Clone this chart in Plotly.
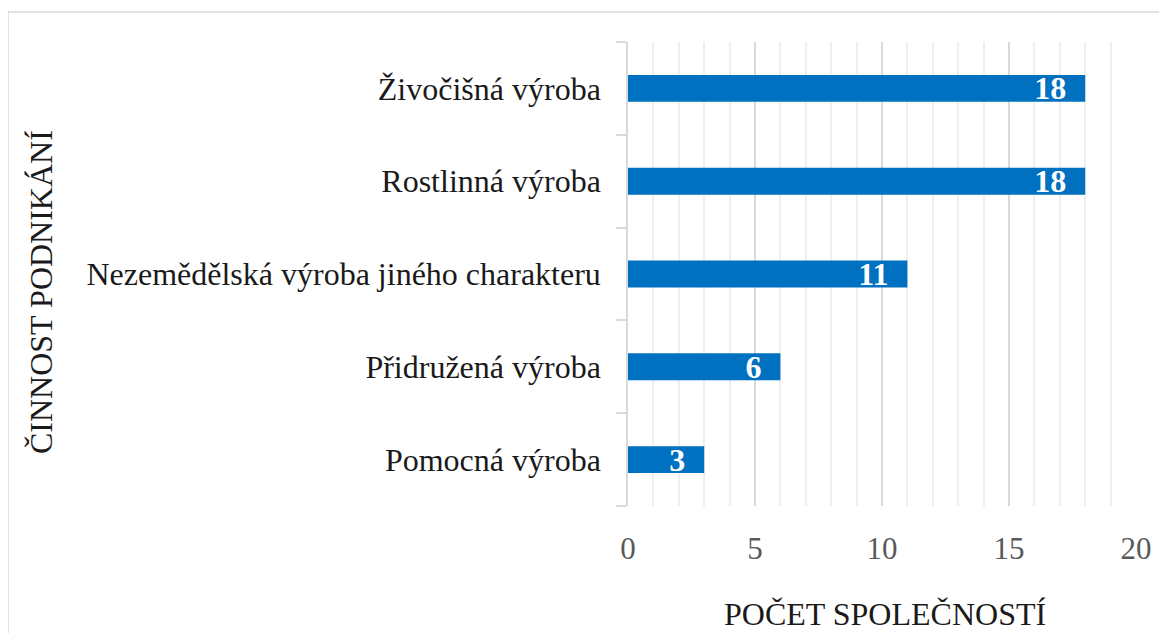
import plotly.graph_objects as go

categories = ["Pomocná výroba", "Přidružená výroba", "Nezemědělská výroba jiného charakteru",
              "Rostlinná výroba", "Živočišná výroba"]
values = [3, 6, 11, 18, 18]
x_ticks = [0, 5, 10, 15, 20]

OFF = 8  # default body margin of the page
W, H = 1167, 633
L, R, T, B = 628 - OFF, 1167 - (1136 - OFF), 42 - OFF, 633 - (506 - OFF)
pw, ph = W - L - R, H - T - B

def px2x(px):
    return (px - OFF - L) / pw

def py2y(py):
    return 1 - (py - OFF - T) / ph

fig = go.Figure(go.Bar(
    x=values, y=categories, orientation="h",
    marker=dict(color="#0070C0", line=dict(width=0)),
    width=0.29,
    text=[str(v) + "\u00a0\u00a0" for v in values],
    textposition="inside", insidetextanchor="end", textangle=0,
    textfont=dict(family="Liberation Serif", size=32, color="white", weight="bold"),
    constraintext="none",
    cliponaxis=False,
))

fig.update_layout(
    width=W, height=H, autosize=False,
    margin=dict(l=L, r=R, t=T, b=B),
    paper_bgcolor="white", plot_bgcolor="white",
    showlegend=False,
    font=dict(family="Liberation Serif"),
    xaxis=dict(
        range=[0, 20], tickvals=x_ticks, ticktext=[str(v) for v in x_ticks],
        showgrid=True, gridcolor="#d9d9d9", gridwidth=1.5,
        minor=dict(dtick=1, showgrid=True, gridcolor="#efefef", gridwidth=1.5),
        zeroline=False, showline=False,
        ticks="outside", ticklen=15, tickcolor="rgba(0,0,0,0)",
        tickfont=dict(family="Liberation Serif", size=31, color="#595959"),
        fixedrange=True,
    ),
    yaxis=dict(
        categoryorder="array", categoryarray=categories,
        tickson="boundaries", ticks="outside", ticklen=10, tickcolor="#d9d9d9", tickwidth=1.5,
        showline=True, linecolor="#d9d9d9", linewidth=1.5,
        showgrid=False, zeroline=False,
        tickfont=dict(family="Liberation Serif", size=32, color="#1a1a1a"),
        ticklabelstandoff=19,
        fixedrange=True,
    ),
    annotations=[
        dict(text="POČET SPOLEČNOSTÍ", xref="paper", yref="paper",
             x=px2x(885), y=py2y(614), xanchor="center", yanchor="middle",
             showarrow=False, font=dict(family="Liberation Serif", size=32, color="#1a1a1a")),
        dict(text="ČINNOST PODNIKÁNÍ", xref="paper", yref="paper",
             x=px2x(41), y=py2y(292), xanchor="center", yanchor="middle", textangle=-90,
             showarrow=False, font=dict(family="Liberation Serif", size=32, color="#1a1a1a")),
    ],
    shapes=[
        dict(type="rect", xref="paper", yref="paper",
             x0=px2x(8), x1=px2x(1185), y0=py2y(660), y1=py2y(12),
             line=dict(color="#d9d9d9", width=1.5), fillcolor="rgba(0,0,0,0)", layer="below"),
    ],
)

fig.write_html("out.html")
